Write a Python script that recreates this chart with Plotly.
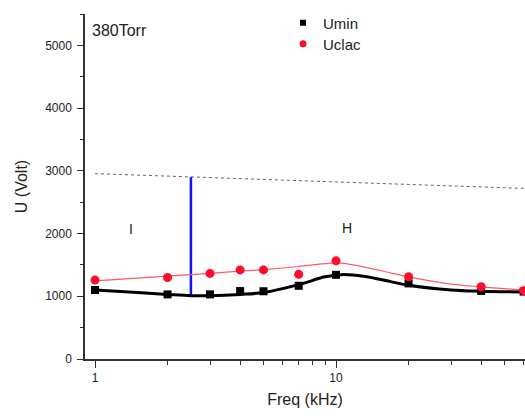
import math
import plotly.graph_objects as go

# Measured data
freq = [1, 2, 3, 4, 5, 7, 10, 20, 40, 60]
umin = [1100, 1030, 1030, 1083, 1080, 1167, 1342, 1205, 1085, 1075]
uclac = [1258, 1300, 1365, 1420, 1420, 1350, 1565, 1311, 1152, 1090]

# Smooth fit curves
fit_x = [1, 1.5, 2, 2.5, 3, 4, 5, 7, 9, 10.5, 13, 17, 20, 30, 40, 60]
fit_umin = [1100, 1060, 1030, 1010, 1010, 1030, 1060, 1185, 1310, 1345, 1320, 1230, 1175, 1100, 1080, 1070]
fit_uclac = [1245, 1290, 1320, 1345, 1365, 1400, 1425, 1475, 1520, 1530, 1470, 1370, 1310, 1195, 1150, 1100]

# Reference (breakdown) dotted line and boundary marker
ref_x = [1, 60]
ref_u = [2955, 2720]
bound_x = [2.5, 2.5]
bound_u = [1000, 2900]

# Region labels
region_x = [1.41, 11.1]
region_y = [2070, 2085]
region_txt = ["I", "H"]

FONT = "Liberation Sans, Arial, sans-serif"
AX = "#333333"

fig = go.Figure()

fig.add_trace(go.Scatter(x=ref_x, y=ref_u, mode="lines",
                         line=dict(color="#666666", width=1, dash="dot"),
                         showlegend=False, hoverinfo="skip"))
fig.add_trace(go.Scatter(x=bound_x, y=bound_u, mode="lines",
                         line=dict(color="#1010ff", width=2.5),
                         showlegend=False, hoverinfo="skip"))
fig.add_trace(go.Scatter(x=fit_x, y=fit_uclac, mode="lines", line_shape="spline",
                         line=dict(color="#ff5a6a", width=1.2),
                         showlegend=False))
fig.add_trace(go.Scatter(x=fit_x, y=fit_umin, mode="lines", line_shape="spline",
                         line=dict(color="#000000", width=3),
                         showlegend=False))
fig.add_trace(go.Scatter(x=freq, y=umin, mode="markers",
                         marker=dict(symbol="square", size=8, color="#000000"),
                         showlegend=False))
fig.add_trace(go.Scatter(x=freq, y=uclac, mode="markers",
                         marker=dict(symbol="circle", size=9, color="#ff0a2a"),
                         showlegend=False))
# legend entries (smaller symbols as in the reference), one per legend box
fig.add_trace(go.Scatter(x=[None], y=[None], mode="markers", name="Umin", legend="legend",
                         marker=dict(symbol="square", size=6, color="#000000")))
fig.add_trace(go.Scatter(x=[None], y=[None], mode="markers", name="Uclac", legend="legend2",
                         marker=dict(symbol="circle", size=7, color="#ff0a2a")))

for xv, yv, t in zip(region_x, region_y, region_txt):
    fig.add_annotation(x=math.log10(xv), y=yv, xref="x", yref="y", text=t, showarrow=False,
                       font=dict(family=FONT, size=14, color="#222222"))

fig.add_annotation(x=(90 - 85) / 440, y=1 - (31 - 14) / 345, xref="paper", yref="paper",
                   text="380Torr", showarrow=False, xanchor="left", yanchor="middle",
                   font=dict(family=FONT, size=16, color="#222222"))

leg_common = dict(xanchor="left", yanchor="middle", bgcolor="rgba(0,0,0,0)",
                  font=dict(size=15, color="#222222"))

fig.update_layout(
    width=525, height=418,
    margin=dict(l=85, r=0, t=14, b=59, pad=0),
    paper_bgcolor="white", plot_bgcolor="white",
    font=dict(family=FONT, size=12, color="#222222"),
    legend=dict(x=(283 - 85) / 440, y=1 - (23 - 14) / 345, **leg_common),
    legend2=dict(x=(283 - 85) / 440, y=1 - (44 - 14) / 345, **leg_common),
    xaxis=dict(type="log", range=[-0.0415, 1.784],
               showline=True, linecolor=AX, linewidth=1.5,
               showgrid=False, zeroline=False,
               tickmode="array", tickvals=[1, 10, 100], ticktext=["1", "10", "100"],
               ticks="outside", ticklen=7, tickwidth=1.3, tickcolor=AX,
               minor=dict(tickmode="array",
                          tickvals=[2, 3, 4, 5, 6, 7, 8, 9, 20, 30, 40, 50, 60, 70, 80, 90],
                          ticks="outside", ticklen=4, tickwidth=1, tickcolor=AX),
               title=dict(text="Freq (kHz)", font=dict(size=16), standoff=10)),
    yaxis=dict(range=[0, 5500],
               showline=True, linecolor=AX, linewidth=1.5,
               showgrid=False, zeroline=False,
               tickmode="linear", tick0=0, dtick=1000,
               ticks="outside", ticklen=6, tickwidth=1.3, tickcolor=AX,
               ticklabelstandoff=3,
               minor=dict(dtick=500, ticks="outside", ticklen=3, tickwidth=1, tickcolor=AX),
               title=dict(text="U (Volt)", font=dict(size=16), standoff=14)),
)

# remove the default 8px page margin so the 525x418 figure fills the window
fig.write_html("out.html", config={"displayModeBar": False},
               post_script="document.body.style.margin='0';document.body.style.overflow='hidden';")
